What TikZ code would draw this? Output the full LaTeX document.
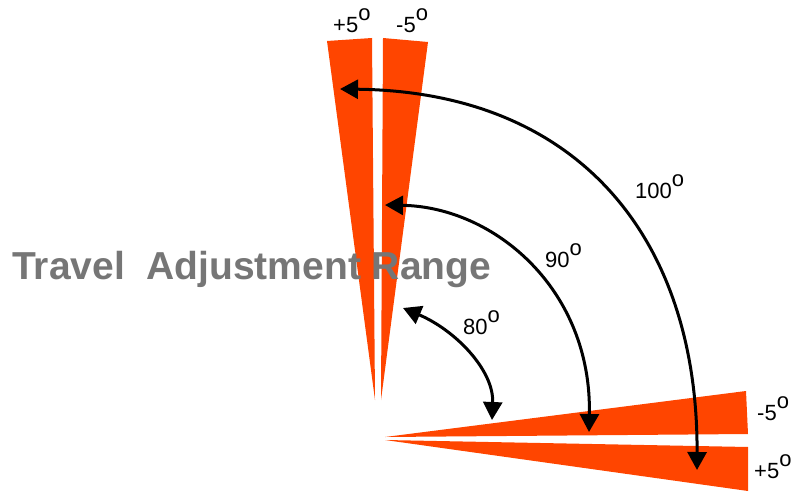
\documentclass[tikz,border=0pt]{standalone}
\usepackage{fontspec}
\setmainfont{Liberation Sans}
\usetikzlibrary{arrows.meta}
\definecolor{wedgered}{RGB}{255,69,0}
\definecolor{titlegray}{RGB}{118,118,118}
\tikzstyle{wedge} = [fill=wedgered, draw=none]
\tikzstyle{sweep} = [line width=3pt, {Triangle[length=18pt,width=19pt]}-{Triangle[length=18pt,width=19pt]}]
\tikzstyle{anglelabel} = [font=\fontsize{22}{24}\selectfont, inner sep=0pt, anchor=base west]
\tikzstyle{title} = [font=\fontsize{39}{42}\selectfont\bfseries, text=titlegray, inner sep=0pt, anchor=base west]
\newcommand{\degs}[1]{#1\raisebox{12pt}{o}}

\begin{document}
\begin{tikzpicture}[x=1pt, y=-1pt]
\useasboundingbox (0,0) rectangle (800,500);

% wedges
\fill[wedge] (375,400) -- (327,41) -- (372,38) -- cycle;
\fill[wedge] (381,400) -- (383,38) -- (428,42) -- cycle;
\fill[wedge] (385,437) -- (746,391) -- (748,434) -- cycle;
\fill[wedge] (385,440) -- (748,447) -- (748,491) -- cycle;

\node (title) [title] at (12,279) {Travel\ \ Adjustment Range};

\node (topplus) [anglelabel] at (333,33) {\degs{+5}};
\node (topminus) [anglelabel] at (396,33) {\degs{-5}};
\node (rightminus) [anglelabel] at (757,420) {\degs{-5}};
\node (rightplus) [anglelabel] at (754,478) {\degs{+5}};

\node (lab100) [anglelabel] at (635,198) {\degs{100}};
\node (lab90) [anglelabel] at (545,267) {\degs{90}};
\node (lab80) [anglelabel] at (463,334) {\degs{80}};

% arc ends
\coordinate (a100) at (340,89);
\coordinate (b100) at (697,470);
\coordinate (a90) at (385,205);
\coordinate (b90) at (589,432);
\coordinate (a80) at (403,308);
\coordinate (b80) at (492,420);

\draw [sweep] (a100) .. controls (580,92) and (698,240) .. (b100);
\draw [sweep] (a90) .. controls (495,207) and (592,290) .. (b90);
\draw [sweep] (a80) .. controls (455,330) and (494,370) .. (b80);
\end{tikzpicture}
\end{document}
